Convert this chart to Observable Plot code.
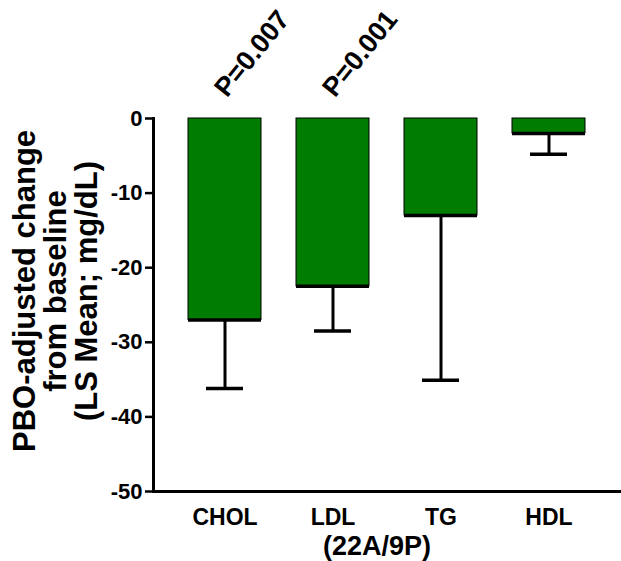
<!DOCTYPE html>
<html>
<head>
<meta charset="utf-8">
<script src="https://cdn.jsdelivr.net/npm/d3@7"></script>
<script src="https://cdn.jsdelivr.net/npm/@observablehq/plot@0.6"></script>
<style>
  html, body { margin: 0; padding: 0; background: #fff; }
  svg { font-family: "Liberation Sans", Arial, sans-serif; font-weight: bold; }
</style>
</head>
<body>
<div id="chart"></div>
<script>
const categories = ["CHOL", "LDL", "TG", "HDL"];
const means = [-27, -22.5, -13, -2];
const errorLow = [-36.2, -28.5, -35.1, -4.8];
const pLabels = ["P=0.007", "P=0.001", "", ""];
const yTicks = [0, -10, -20, -30, -40, -50];
const yTitle = "PBO-adjusted change\nfrom baseline\n(LS Mean; mg/dL)";
const ldlSub = "(22A/9P)";

const data = categories.map((c, i) => ({cat: c, mean: means[i], low: errorLow[i], p: pLabels[i]}));
const green = "#007c00";

const chart = Plot.plot({
  width: 621,
  height: 561,
  marginLeft: 153,
  marginRight: 0,
  marginTop: 118,
  marginBottom: 70,
  style: {fontFamily: "Liberation Sans, Arial, sans-serif", fontWeight: "bold", background: "#fff", color: "#000"},
  x: {domain: categories, paddingInner: 0.32, paddingOuter: 0.31, label: null},
  y: {domain: [-50, 0], label: null},
  marks: [
    Plot.barY(data, {x: "cat", y: "mean", fill: green, stroke: "#000", strokeWidth: 1}),
    Plot.tickY(data, {x: "cat", y: "mean", stroke: "#000", strokeWidth: 3.5}),
    Plot.ruleX(data, {x: "cat", y1: "mean", y2: "low", stroke: "#000", strokeWidth: 3}),
    Plot.tickY(data, {x: "cat", y: "low", stroke: "#000", strokeWidth: 3.5, insetLeft: 18, insetRight: 18}),
    Plot.ruleY([-50], {stroke: "#000", strokeWidth: 3}),
    Plot.frame({anchor: "left", stroke: "#000", strokeWidth: 3}),
    Plot.axisY({ticks: yTicks, tickFormat: d => String(d), tickSize: 8, tickPadding: 3, fontSize: 22, strokeWidth: 2.5}),
    Plot.axisX({tickSize: 0, tickPadding: 17, fontSize: 23, lineAnchor: "top"}),
    Plot.text(data.filter(d => d.p), {x: "cat", y: 0, text: "p", rotate: -51, textAnchor: "start", lineAnchor: "bottom", dx: 2, dy: -20, fontSize: 27}),
    Plot.text([ldlSub], {x: () => "LDL", y: -50, text: d => d, textAnchor: "start", lineAnchor: "top", dx: -10, dy: 44, fontSize: 27}),
    Plot.text([yTitle], {frameAnchor: "left", text: d => d, rotate: -90, textAnchor: "middle", lineAnchor: "middle", lineHeight: 1.0, dx: -97, dy: -14, fontSize: 31})
  ]
});
document.getElementById("chart").appendChild(chart);
</script>
</body>
</html>
